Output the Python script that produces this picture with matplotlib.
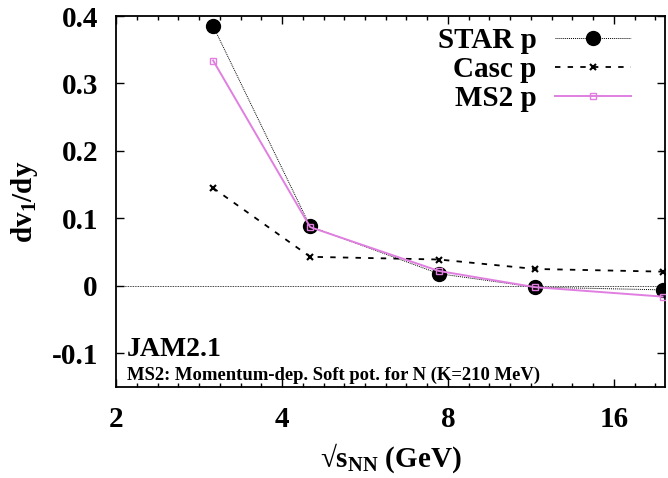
import numpy as np
import matplotlib.pyplot as plt
from matplotlib.ticker import FixedLocator, NullFormatter

plt.rcParams['font.family'] = ['Liberation Serif', 'DejaVu Serif']
plt.rcParams['font.weight'] = 'bold'
plt.rcParams['axes.labelweight'] = 'bold'
plt.rcParams['mathtext.fontset'] = 'custom'
plt.rcParams['mathtext.rm'] = 'Liberation Serif:bold'
plt.rcParams['mathtext.it'] = 'Liberation Serif:bold'
plt.rcParams['mathtext.bf'] = 'Liberation Serif:bold'

# энергии столкновений (GeV)
energies = [3.0, 4.5, 7.7, 11.5, 19.6]

# наклон dv1/dy для протонов
star_p = [0.385, 0.088, 0.018, -0.002, -0.006]
casc_p = [0.145, 0.043, 0.039, 0.025, 0.021]
ms2_p = [0.334, 0.087, 0.022, -0.002, -0.016]

x_ticks = [2, 4, 8, 16]
y_ticks = [-0.1, 0, 0.1, 0.2, 0.3, 0.4]
y_tick_labels = ['-0.1', '0', '0.1', '0.2', '0.3', '0.4']

fig = plt.figure(figsize=(6.68, 4.78), dpi=100)
ax = fig.add_axes([0.1737, 0.1904, 0.8218, 0.7761])

ax.axhline(0, color='black', lw=0.6, ls=(0, (1, 1)), zorder=1)

ax.plot(energies, star_p, color='black', lw=0.7, ls=(0, (1, 1)),
        marker='o', ms=10, label='STAR p', zorder=3)
ax.plot(energies, casc_p, color='black', lw=1.3, ls=(0, (3, 4)),
        marker='x', ms=5, mew=1.5, label='Casc p', zorder=2)
ax.plot(energies, ms2_p, color='#e07fe0', lw=1.4, ls='-',
        marker='s', ms=5, mfc='none', mew=1.0, label='MS2 p', zorder=4)

ax.set_xscale('log', base=2)
ax.set_xlim(2, 19.8)
ax.set_ylim(-0.15, 0.4)

ax.xaxis.set_major_locator(FixedLocator(x_ticks))
ax.set_xticklabels([str(v) for v in x_ticks])
minor = [2 * 2 ** (k / 8) for k in range(0, 28) if k % 8 != 0]
ax.xaxis.set_minor_locator(FixedLocator(minor))
ax.xaxis.set_minor_formatter(NullFormatter())
ax.set_yticks(y_ticks)
ax.set_yticklabels(y_tick_labels)

ax.tick_params(which='both', direction='in', top=True, right=True,
               labelsize=21, width=1.0)
ax.tick_params(which='major', length=6)
ax.tick_params(axis='x', which='major', pad=14)
ax.tick_params(axis='y', which='major', pad=13)
ax.tick_params(which='minor', length=3)
for s in ax.spines.values():
    s.set_linewidth(1.3)

ax.set_xlabel('\u221as$_{\\mathrm{NN}}$ (GeV)', fontsize=21, labelpad=6)
ax.set_ylabel('dv$_1$/dy', fontsize=21, labelpad=8)

ax.text(0.02, 0.083, 'JAM2.1', transform=ax.transAxes, fontsize=20,
        ha='left', va='baseline')
ax.text(0.02, 0.056, 'MS2: Momentum-dep. Soft pot. for N (K=210 MeV)',
        transform=ax.transAxes, fontsize=13.4, ha='left', va='top')

leg = ax.legend(loc='upper right', bbox_to_anchor=(0.965, 1.01),
                markerfirst=False, frameon=False, fontsize=21,
                handlelength=2.6, handletextpad=0.65, labelspacing=0.07,
                borderaxespad=0.1)

fig.savefig('out.png', dpi=100)
